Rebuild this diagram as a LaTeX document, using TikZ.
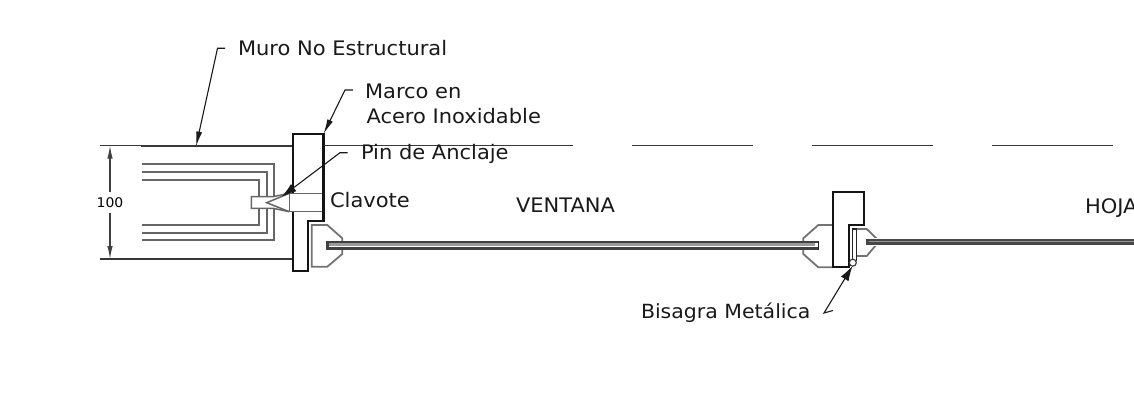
\documentclass[tikz,border=0pt]{standalone}
\usepackage{fontspec}
\setmainfont[FakeStretch=1.05]{DejaVu Sans}
\usetikzlibrary{arrows.meta}
\definecolor{ln}{gray}{0.22}
\tikzset{
 lbl/.style={anchor=base west,inner sep=0pt,outer sep=0pt,font=\fontsize{20}{22}\selectfont,text=black!90},
 heavy/.style={draw=black!92,line width=2.3pt,line join=miter},
 wall/.style={draw=ln,line width=2.3pt},
 thin/.style={draw=ln,line width=1.1pt},
 med/.style={draw=black!55,line width=1.8pt},
 layer/.style={draw=black!60,line width=1.8pt},
 pinline/.style={draw=black!60,line width=1.5pt},
 leader/.style={draw=black!90,line width=1.1pt,-{Latex[length=15pt,width=6pt]}},
 fatleader/.style={draw=black!90,line width=1.1pt,-{Latex[length=15pt,width=9pt]}},
 glass/.style={draw=black!75,line width=2.4pt},
}
\begin{document}
\begin{tikzpicture}[x=1pt,y=-1pt]
\path[use as bounding box] (0,0) rectangle (1134,404);
\clip (0,0) rectangle (1134,404);
% wall
\draw[wall] (141,145.7) -- (293,145.7);
\draw[wall] (141,259) -- (293,259);
\draw[thin] (100,145.7) -- (141,145.7);
\draw[thin] (100,259) -- (141,259);
% wall layers
\draw[layer] (141.6,164.3) -- (274,164.3) -- (274,240) -- (141.6,240);
\draw[layer] (141.6,172.3) -- (266.7,172.3) -- (266.7,232.7) -- (141.6,232.7);
\draw[layer] (141.6,179.6) -- (259.3,179.6) -- (259.3,225) -- (141.6,225);
% clavote
\fill[white] (251.3,196.7) rectangle (275,208.3);
\fill[white] (273,196.7) -- (289.3,193.3) -- (289.3,211.7) -- (273,208.3) -- cycle;
\draw[pinline] (273,196.7) -- (251.3,196.7) -- (251.3,208.3) -- (273,208.3) -- (289.3,211.7);
\draw[pinline] (273,196.7) -- (289.3,193.3);
\draw[pinline] (289.3,193.3) -- (266.7,202.7) -- (289.3,211.7);
% frame
\draw[heavy,fill=white] (293,134) -- (323.5,134) -- (323.5,221) -- (308,221) -- (308,271) -- (293,271) -- cycle;
\fill[white] (290,193.3) rectangle (322.4,211.7);
\draw[pinline] (322.4,193.3) -- (289.3,193.3) -- (289.3,211.7) -- (322.4,211.7);
% dashed head line
\draw[thin] (323.5,145.7) -- (573,145.7);
\draw[thin] (632,145.7) -- (753,145.7);
\draw[thin] (812,145.7) -- (933,145.7);
\draw[thin] (992,145.7) -- (1113,145.7);
% left hardware
\draw[med] (311.7,225) -- (327.3,225) -- (342.3,238.3) -- (342.3,254) -- (327.3,266.7) -- (311.7,266.7) -- cycle;
% glass pane
\fill[white] (327.3,240.5) rectangle (818.3,250);
\draw[glass] (327.3,242.2) -- (818.3,242.2);
\draw[glass] (327.3,248.6) -- (818.3,248.6);
\fill[black!40] (327.3,243.4) rectangle (815,245.6);
\draw[glass] (327.3,241) -- (327.3,249.8);
\draw[draw=black!85,line width=1.2pt] (818.3,241) -- (818.3,249.8);
\fill[white] (815,243.4) rectangle (817.7,247.4);
% mid hardware
\draw[med] (833,225) -- (818.3,225) -- (803.3,238.3) -- (803.3,241);
\draw[med] (803.3,250) -- (803.3,254) -- (818.3,267.3) -- (833,267.3);
\draw[heavy,fill=white] (833.3,192.3) -- (864,192.3) -- (864,225) -- (849,225) -- (849,267.3) -- (833.3,267.3) -- cycle;
% right hardware
\draw[med] (856.7,229) -- (866.7,229) -- (876,238) -- (876,245) -- (866.7,256) -- (856.7,256);
\fill[white] (866,238) rectangle (1134,246);
\draw[draw=black!72,line width=6pt] (866,241.8) -- (1134,241.8);
\draw[draw=black!42,line width=1.2pt] (869,241.6) -- (1134,241.6);
% hinge
\draw[draw=black!85,line width=1.3pt] (852.3,229) -- (852.3,260);
\draw[draw=black!85,line width=1.3pt] (856.7,229) -- (856.7,261);
\draw[draw=black!85,line width=1.3pt] (852.3,229) -- (856.7,229);
\node[circle,draw=black!80,fill=white,line width=1.1pt,minimum size=7pt,inner sep=0pt] (hinge) at (852.8,262.7) {};
% labels
\node[lbl] (muro) at (238,56) {Muro No Estructural};
\node[lbl] (marco) at (365,98) {Marco en};
\node[lbl] (acero) at (366.5,123) {Acero Inoxidable};
\node[lbl] (pin) at (361,159) {Pin de Anclaje};
\node[lbl] (clav) at (330,207.5) {Clavote};
\node[lbl] (vent) at (516,212.5) {VENTANA};
\node[lbl] (hoja) at (1085,213) {HOJA};
\node[lbl,font=\fontsize{19.5}{22}\selectfont] (bis) at (641,318) {Bisagra Metálica};
\node[anchor=center,inner sep=0pt,font=\fontsize{13.3}{15}\selectfont] (dimt) at (110,202.5) {100};
% dimension
\coordinate (dt) at (110,145.7);
\coordinate (db) at (110,259);
\coordinate (dm1) at (110,192);
\coordinate (dm2) at (110,212.5);
\draw[draw=black!75,line width=1.1pt,{Latex[length=13pt,width=5.5pt]}-] (dt) -- (dm1);
\draw[draw=black!75,line width=1.1pt,-{Latex[length=13pt,width=5.5pt]}] (dm2) -- (db);
% leaders
\coordinate (t1a) at (225,48.3); \coordinate (t1b) at (217.5,48.3); \coordinate (h1) at (196,146.5);
\draw[leader] (t1a) -- (t1b) -- (h1);
\coordinate (t2a) at (353,90); \coordinate (t2b) at (345,90); \coordinate (h2) at (323.5,134);
\draw[leader] (t2a) -- (t2b) -- (h2);
\coordinate (t3a) at (347.7,152.7); \coordinate (t3b) at (340,152.7); \coordinate (h3) at (281.7,196.7);
\draw[fatleader] (t3a) -- (t3b) -- (h3);
\coordinate (t4a) at (833,310.5); \coordinate (t4b) at (824,313); \coordinate (h4) at (852.5,266);
\draw[fatleader] (t4a) -- (t4b) -- (h4);
\end{tikzpicture}
\end{document}
